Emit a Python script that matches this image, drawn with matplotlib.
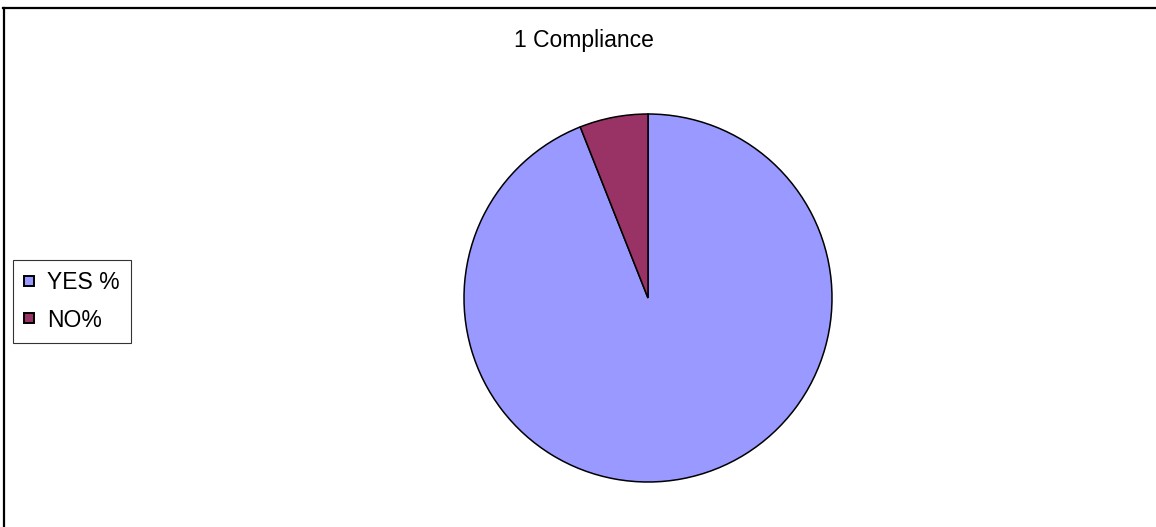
import matplotlib.pyplot as plt
from matplotlib.lines import Line2D

plt.rcParams['font.family'] = ['Liberation Sans', 'DejaVu Sans']

# compliance answers, percent
labels = ['YES %', 'NO%']
values = [94, 6]
colors = ['#9999FF', '#993366']

W, H = 1156, 527
fig = plt.figure(figsize=(W / 100, H / 100), dpi=100)

# chart area border (top and left edges only show)
fig.add_artist(Line2D([4 / W, 4 / W], [0, 1 - 7.5 / H], color='black', lw=1.6,
                      transform=fig.transFigure))
fig.add_artist(Line2D([3 / W, 1], [1 - 7.5 / H, 1 - 7.5 / H], color='black', lw=1.6,
                      transform=fig.transFigure))

# pie centred at (648, 298) px with radius 184 px
cx, cy, r = 648, 298, 184
ax = fig.add_axes([(cx - r) / W, (H - cy - r) / H, 2 * r / W, 2 * r / H])
wedges, _ = ax.pie(values, colors=colors, startangle=90, counterclock=False,
                   wedgeprops=dict(edgecolor='black', linewidth=1.1))
ax.set_xlim(-1, 1)
ax.set_ylim(-1, 1)
ax.set_aspect('equal')
ax.axis('off')

fig.text(584 / W, 1 - 40 / H, '1 Compliance', ha='center', va='center', fontsize=16.5)

leg = fig.legend(wedges, labels, loc='upper left',
                 bbox_to_anchor=(13 / W, 1 - 260 / H), fontsize=16.5,
                 frameon=True, fancybox=False, handlelength=0.4, handleheight=0.3,
                 handletextpad=0.6, labelspacing=0.62, borderpad=0.5,
                 borderaxespad=0)
leg.get_frame().set_edgecolor('black')
leg.get_frame().set_linewidth(0.8)
for h in leg.legend_handles:
    h.set_linewidth(1.4)

fig.savefig('out.png', dpi=100)
